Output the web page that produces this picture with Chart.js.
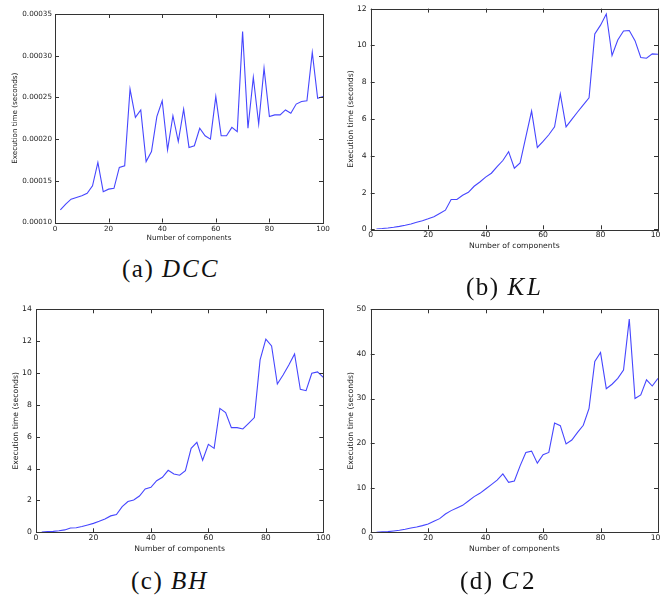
<!DOCTYPE html>
<html>
<head>
<meta charset="utf-8">
<script src="https://cdn.jsdelivr.net/npm/chart.js@4/dist/chart.umd.min.js"></script>
<style>
  html, body { margin: 0; padding: 0; background: #fff; overflow: hidden; }
  #page { position: relative; width: 661px; height: 601px; overflow: hidden; background: #fff; }
  .panel { position: absolute; }
  .cap { position: absolute; font-family: "Liberation Serif", serif; font-size: 25px; line-height: 25px;
         color: #111; white-space: nowrap; letter-spacing: 1.5px; }
  .cap i { letter-spacing: 2px; }
</style>
</head>
<body>
<div id="page">
  <div class="panel" style="left:0px;top:0px"><canvas id="chartDCC" width="335" height="250"></canvas></div>
  <div class="panel" style="left:330px;top:0px"><canvas id="chartKL" width="345" height="256"></canvas></div>
  <div class="panel" style="left:0px;top:300px"><canvas id="chartBH" width="340" height="260"></canvas></div>
  <div class="panel" style="left:330px;top:300px"><canvas id="chartC2" width="345" height="260"></canvas></div>

  <div class="cap" style="left:122px;top:256px">(a) <i>DCC</i></div>
  <div class="cap" style="left:466px;top:274px">(b) <i style="letter-spacing:3px">KL</i></div>
  <div class="cap" style="left:131px;top:568px">(c) <i>BH</i></div>
  <div class="cap" style="left:460px;top:568px">(d) <i style="letter-spacing:4px">C</i>2</div>
</div>

<script>
// number of components (x values)
const components = [2, 4, 6, 8, 10, 12, 14, 16, 18, 20, 22, 24, 26, 28, 30, 32, 34, 36, 38, 40,
  42, 44, 46, 48, 50, 52, 54, 56, 58, 60, 62, 64, 66, 68, 70, 72, 74, 76, 78, 80,
  82, 84, 86, 88, 90, 92, 94, 96, 98, 100];

// execution time (seconds)
const dccTimes = [0.000115, 0.000122, 0.000128, 0.000130, 0.000132, 0.000135, 0.000144, 0.000172, 0.000137, 0.000140,
  0.000141, 0.000166, 0.000168, 0.000260, 0.000226, 0.000235, 0.000173, 0.000185, 0.000227, 0.000246,
  0.000187, 0.000228, 0.000197, 0.000236, 0.000190, 0.000192, 0.000213, 0.000204, 0.000200, 0.000251,
  0.000204, 0.000204, 0.000214, 0.000209, 0.000329, 0.000213, 0.000274, 0.000218, 0.000285, 0.000227,
  0.000229, 0.000229, 0.000235, 0.000231, 0.000242, 0.000245, 0.000246, 0.000304, 0.000249, 0.000251];

const klTimes = [0.02, 0.04, 0.07, 0.11, 0.16, 0.22, 0.29, 0.38, 0.47, 0.57,
  0.68, 0.86, 1.04, 1.62, 1.62, 1.85, 2.01, 2.34, 2.57, 2.84,
  3.05, 3.41, 3.74, 4.22, 3.32, 3.61, 5.03, 6.43, 4.45, 4.78,
  5.14, 5.57, 7.36, 5.57, 5.98, 6.38, 6.77, 7.15, 10.62, 11.1,
  11.71, 9.45, 10.29, 10.78, 10.81, 10.26, 9.34, 9.30, 9.54, 9.52];

const bhTimes = [0.02, 0.04, 0.06, 0.10, 0.15, 0.27, 0.29, 0.36, 0.46, 0.56,
  0.69, 0.84, 1.03, 1.11, 1.61, 1.93, 2.03, 2.28, 2.72, 2.82,
  3.24, 3.45, 3.89, 3.66, 3.58, 3.87, 5.27, 5.65, 4.52, 5.52,
  5.27, 7.78, 7.51, 6.57, 6.57, 6.49, 6.84, 7.2, 10.82, 12.13,
  11.7, 9.31, 9.88, 10.5, 11.2, 8.98, 8.89, 9.98, 10.07, 9.73];

const c2Times = [0.02, 0.1, 0.15, 0.3, 0.45, 0.67, 0.97, 1.2, 1.5, 1.87,
  2.47, 3.06, 4.1, 4.86, 5.46, 6.05, 7.03, 8.0, 8.74, 9.72,
  10.69, 11.7, 13.08, 11.2, 11.5, 14.9, 17.9, 18.2, 15.5, 17.4,
  17.9, 24.5, 23.9, 19.8, 20.7, 22.4, 24.0, 27.8, 38.3, 40.3,
  32.2, 33.2, 34.5, 36.4, 47.8, 30.0, 30.8, 34.2, 32.8, 34.5];

// tick labels
const xTicks = [0, 20, 40, 60, 80, 100];
const dccTicks = [0.00010, 0.00015, 0.00020, 0.00025, 0.00030, 0.00035];
const klTicks = [0, 2, 4, 6, 8, 10, 12];
const bhTicks = [0, 2, 4, 6, 8, 10, 12, 14];
const c2Ticks = [0, 10, 20, 30, 40, 50];

const xTitle = 'Number of components';
const yTitle = 'Execution time (seconds)';

// matplotlib style frame with inward ticks on all four sides
const frameTicks = {
  id: 'frameTicks',
  afterDraw(chart) {
    const {ctx, chartArea: a, scales: {x, y}} = chart;
    const len = 4;
    ctx.save();
    ctx.strokeStyle = '#333';
    ctx.lineWidth = 1;
    ctx.beginPath();
    x.ticks.forEach(t => {
      const px = Math.round(x.getPixelForValue(t.value)) + 0.5;
      ctx.moveTo(px, a.bottom); ctx.lineTo(px, a.bottom - len);
      ctx.moveTo(px, a.top); ctx.lineTo(px, a.top + len);
    });
    y.ticks.forEach(t => {
      const py = Math.round(y.getPixelForValue(t.value)) + 0.5;
      ctx.moveTo(a.left, py); ctx.lineTo(a.left + len, py);
      ctx.moveTo(a.right, py); ctx.lineTo(a.right - len, py);
    });
    ctx.stroke();
    ctx.strokeRect(Math.round(a.left) + 0.5, Math.round(a.top) + 0.5,
      Math.round(a.right - a.left), Math.round(a.bottom - a.top));
    ctx.restore();
  }
};

function makeChart(id, values, yTicks, fmt, box) {
  const font = {family: 'DejaVu Sans', size: box.fs};
  return new Chart(document.getElementById(id), {
    type: 'line',
    data: {
      datasets: [{
        data: components.map((c, i) => ({x: c, y: values[i]})),
        borderColor: 'rgb(70,70,255)',
        borderWidth: 1.1,
        pointRadius: 0,
        tension: 0,
        fill: false
      }]
    },
    options: {
      responsive: false,
      animation: false,
      layout: {padding: {left: box.pl, top: box.T, right: box.W - box.R, bottom: box.H - box.B - box.xh}},
      plugins: {legend: {display: false}, tooltip: {enabled: false}},
      scales: {
        x: {
          type: 'linear',
          min: 0, max: 100,
          afterBuildTicks: s => { s.ticks = xTicks.map(v => ({value: v})); },
          afterFit: s => { s.height = box.xh; },
          grid: {display: false, drawTicks: false},
          border: {display: false},
          ticks: {font, color: '#222', padding: box.xpad, maxRotation: 0, autoSkip: false},
          title: {display: true, text: xTitle, font, color: '#222', padding: 0}
        },
        y: {
          type: 'linear',
          min: yTicks[0], max: yTicks[yTicks.length - 1],
          afterBuildTicks: s => { s.ticks = yTicks.map(v => ({value: v})); },
          afterFit: s => { s.width = box.L - box.pl; },
          grid: {display: false, drawTicks: false},
          border: {display: false},
          ticks: {font, color: '#222', padding: box.ypad, callback: fmt, autoSkip: false},
          title: {display: true, text: yTitle, font, color: '#222', padding: 0}
        }
      }
    },
    plugins: [frameTicks]
  });
}

const plain = v => String(v);

// box: canvas size, chart area edges, fonts (canvas coordinates)
makeChart('chartDCC', dccTimes, dccTicks, v => v.toFixed(5),
  {W: 335, H: 250, L: 55, R: 323, T: 14, B: 222.5, pl: 10.7, xh: 20.2, fs: 7.2, xpad: 2.6, ypad: 3});
makeChart('chartKL', klTimes, klTicks, plain,
  {W: 345, H: 256, L: 40.7, R: 328, T: 6.7, B: 229.3, pl: 16.1, xh: 21.3, fs: 7.7, xpad: 1.2, ypad: 4});
makeChart('chartBH', bhTimes, bhTicks, plain,
  {W: 340, H: 260, L: 36, R: 323.3, T: 9.3, B: 232.3, pl: 11.1, xh: 21.3, fs: 7.7, xpad: 1.2, ypad: 4.2});
makeChart('chartC2', c2Times, c2Ticks, plain,
  {W: 345, H: 260, L: 40.7, R: 328, T: 9.3, B: 232.3, pl: 16.1, xh: 21.3, fs: 7.7, xpad: 1.2, ypad: 4.5});
</script>
</body>
</html>
